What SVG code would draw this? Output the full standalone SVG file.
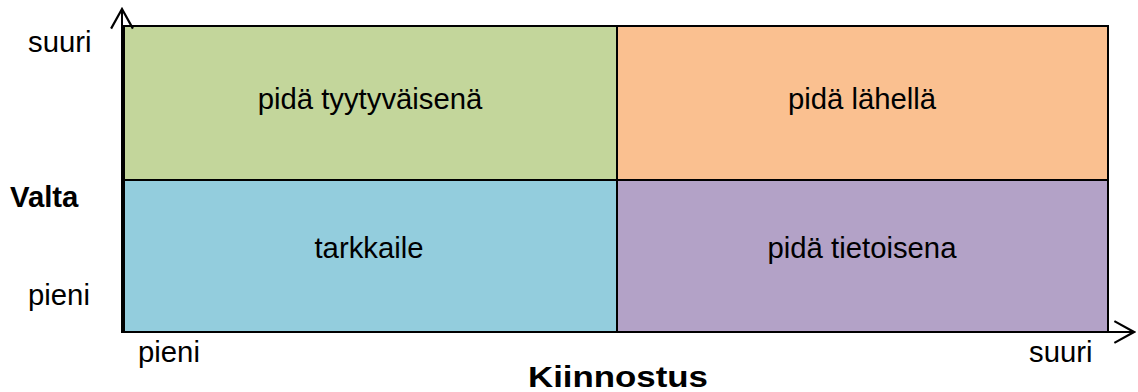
<svg xmlns="http://www.w3.org/2000/svg" width="1138" height="392" viewBox="0 0 1138 392">
<style>
.q{stroke:#000;stroke-width:2}
.t{font-family:"Liberation Sans",Arial,sans-serif;font-size:29.3px;fill:#000}
.c{text-anchor:middle}
.b{font-weight:bold}
.ax{stroke:#000;stroke-width:2;fill:none}
</style>
<defs>
<marker id="arr" markerUnits="userSpaceOnUse" markerWidth="24" markerHeight="24" viewBox="-20 -11 22 22" refX="0" refY="0" orient="auto">
<path d="M-18,-10 L0,0 L-18,10" fill="none" stroke="#000" stroke-width="2"/>
</marker>
</defs>
<rect width="1138" height="392" fill="#fff"/>
<g id="q-tl"><rect class="q" x="124" y="26" width="493" height="154" fill="#C3D69B"/><text class="t c" x="370" y="109">pidä tyytyväisenä</text></g>
<g id="q-tr"><rect class="q" x="617" y="26" width="491" height="154" fill="#FAC090"/><text class="t c" x="862" y="109">pidä lähellä</text></g>
<g id="q-bl"><rect class="q" x="124" y="180" width="493" height="152" fill="#93CDDD"/><text class="t c" x="369" y="258">tarkkaile</text></g>
<g id="q-br"><rect class="q" x="617" y="180" width="491" height="152" fill="#B3A2C7"/><text class="t c" x="862" y="258">pidä tietoisena</text></g>
<g id="connectors">
<line class="ax" x1="122" y1="333" x2="122" y2="9" marker-end="url(#arr)"/>
<line class="ax" x1="121" y1="332" x2="1134" y2="332" marker-end="url(#arr)"/>
</g>
<g id="labels">
<text class="t" x="28" y="52">suuri</text>
<text class="t b" x="10" y="207">Valta</text>
<text class="t" x="28" y="305">pieni</text>
<text class="t" x="138" y="362">pieni</text>
<text class="t" x="1029" y="362">suuri</text>
<text class="t b" x="528" y="387" textLength="180" lengthAdjust="spacingAndGlyphs">Kiinnostus</text>
</g>
</svg>
